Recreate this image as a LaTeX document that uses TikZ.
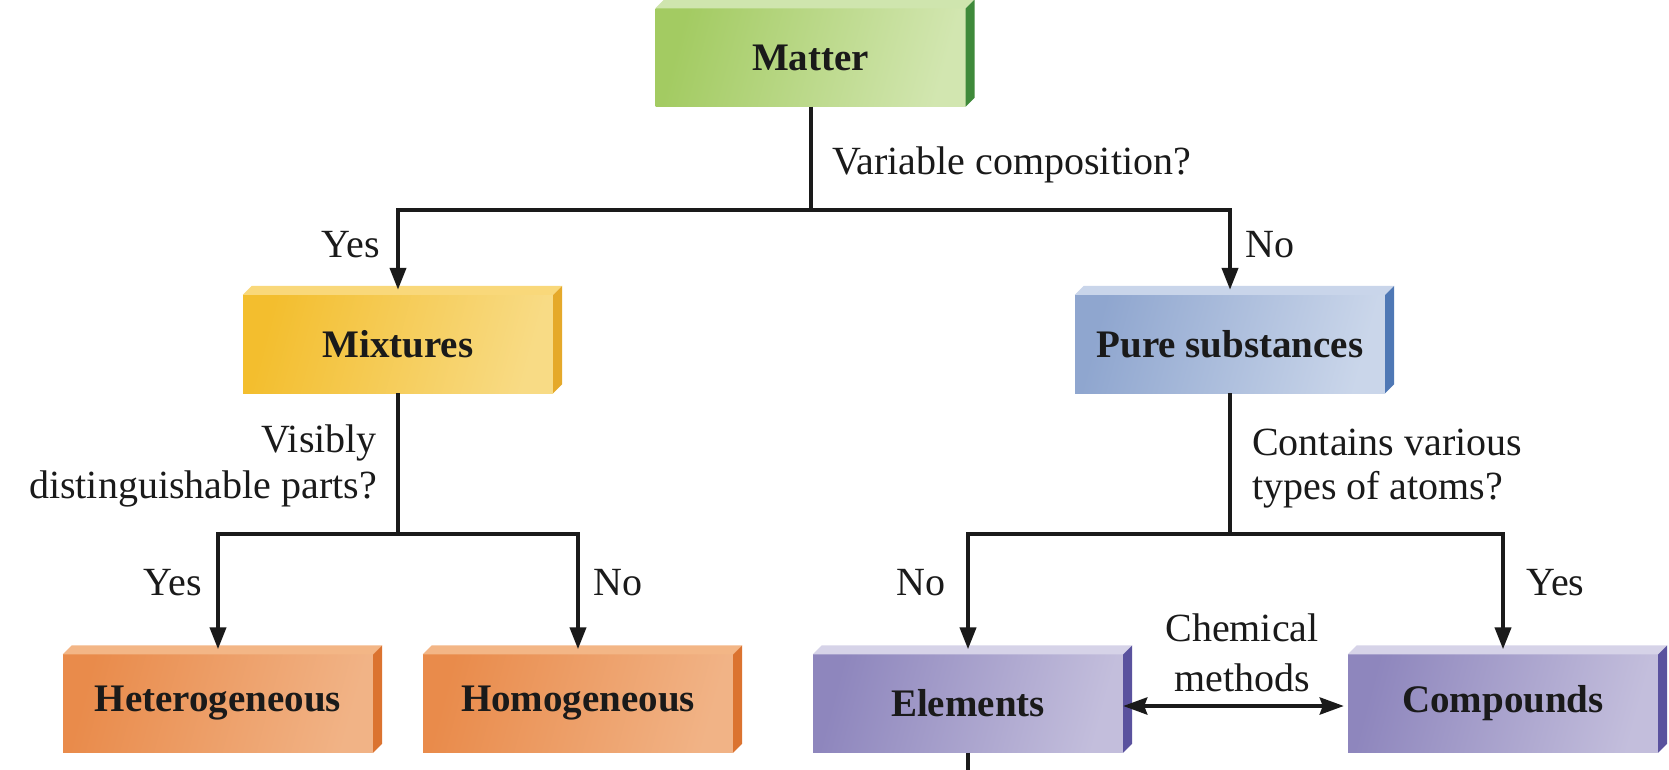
\documentclass[tikz,border=0pt]{standalone}
\usepackage{fontspec}
\setmainfont{Liberation Serif}
\usetikzlibrary{arrows.meta,calc}
\definecolor{gL}{HTML}{A3CB62}\definecolor{gR}{HTML}{D2E6B0}\definecolor{gT}{HTML}{CFE5AE}\definecolor{gS}{HTML}{3F8A3A}
\definecolor{yL}{HTML}{F3BE2E}\definecolor{yR}{HTML}{F8DB85}\definecolor{yT}{HTML}{F9D87A}\definecolor{yS}{HTML}{E5A92A}
\definecolor{bL}{HTML}{8FA6CF}\definecolor{bR}{HTML}{CAD6EA}\definecolor{bT}{HTML}{C9D5EA}\definecolor{bS}{HTML}{4F78B5}
\definecolor{oL}{HTML}{E98B4B}\definecolor{oR}{HTML}{F1B386}\definecolor{oT}{HTML}{F3B686}\definecolor{oS}{HTML}{DB7330}
\definecolor{pL}{HTML}{8E86BD}\definecolor{pR}{HTML}{C3BEDC}\definecolor{pT}{HTML}{D6D3E8}\definecolor{pS}{HTML}{5A529E}
\definecolor{ink}{HTML}{1A1A1A}
\tikzset{
  box/.style={minimum width=310pt, minimum height=98pt, inner sep=0pt,
    font=\fontsize{39}{42}\selectfont\bfseries, text=ink},
  greenbox/.style={box, left color=gL, right color=gR, shading angle=75},
  yellowbox/.style={box, left color=yL, right color=yR, shading angle=75},
  bluebox/.style={box, left color=bL, right color=bR, shading angle=75},
  orangebox/.style={box, left color=oL, right color=oR, shading angle=75},
  purplebox/.style={box, left color=pL, right color=pR, shading angle=75},
  lbl/.style={inner sep=0pt, font=\fontsize{40}{46}\selectfont, text=ink},
  ln/.style={line width=4pt, draw=ink},
  arr/.style={ln, -{Triangle[length=22pt,width=16pt]}},
  dbl/.style={ln, {Stealth[length=24pt,width=17pt,inset=3pt]}-{Stealth[length=24pt,width=17pt,inset=3pt]}},
}
\begin{document}
\begin{tikzpicture}[x=1pt,y=-1pt]
\useasboundingbox (0,0) rectangle (1669,770);
\fill[white] (0,0) rectangle (1669,770);
% boxes
\node[greenbox]  (matter) at (810.5,57.5) {Matter};
\node[yellowbox] (mix)    at (398,344) {Mixtures};
\node[bluebox]   (pure)   at (1230,344) {Pure substances};
\node[orangebox] (het)    at (218,703.5) {Heterogeneous};
\node[orangebox] (hom)    at (578,703.5) {Homogeneous};
\node[purplebox] (elem)   at (968,703.5) {Elements};
\node[purplebox] (comp)   at (1503,703.5) {Compounds};
% 3D faces
\foreach \n/\t/\s in {matter/gT/gS, mix/yT/yS, pure/bT/bS, het/oT/oS, hom/oT/oS, elem/pT/pS, comp/pT/pS}{
  \fill[\t] (\n.north west) -- ++(9,-9) -- ($(\n.north east)+(9,-9)$) -- (\n.north east) -- cycle;
  \fill[\s] (\n.north east) -- ++(9,-9) -- ($(\n.south east)+(9,-9)$) -- (\n.south east) -- cycle;
}
% branch points
\coordinate (b1) at (810.5,210);
\coordinate (b2) at (398,534);
\coordinate (b3) at (1230,534);
\coordinate (bot) at (968,772);
% connectors
\draw[ln] (matter.south) -- (b1);
\draw[arr] (b1) -| ([yshift=5pt]mix.north);
\draw[arr] (b1) -| ([yshift=5pt]pure.north);
\draw[ln] (mix.south) -- (b2);
\draw[arr] (b2) -| ([yshift=5pt]het.north);
\draw[arr] (b2) -| ([yshift=5pt]hom.north);
\draw[ln] (pure.south) -- (b3);
\draw[arr] (b3) -| ([yshift=5pt]elem.north);
\draw[arr] (b3) -| ([yshift=5pt]comp.north);
\draw[dbl] ([yshift=-2.5pt]elem.east) -- ([xshift=-4pt,yshift=-2.5pt]comp.west);
\draw[ln] (elem.south) -- (bot);
% labels
\node[lbl, anchor=base west] (q1) at (832,175) {Variable composition?};
\node[lbl, anchor=base east] (y1) at (380,257) {Yes};
\node[lbl, anchor=base west] (n1) at (1245,257) {No};
\node[lbl, anchor=base east] (q2a) at (377,452) {Visibly};
\node[lbl, anchor=base east] (q2b) at (377,498) {distinguishable parts?};
\node[lbl, anchor=base west] (q3a) at (1252,455) {Contains various};
\node[lbl, anchor=base west] (q3b) at (1252,499) {types of atoms?};
\node[lbl, anchor=base east] (y2) at (202,595) {Yes};
\node[lbl, anchor=base west] (n2) at (593,595) {No};
\node[lbl, anchor=base east] (n3) at (946,595) {No};
\node[lbl, anchor=base west] (y3) at (1526,595) {Yes};
\node[lbl, anchor=base] (c1) at (1242,641) {Chemical};
\node[lbl, anchor=base] (c2) at (1242,691) {methods};
\end{tikzpicture}
\end{document}
